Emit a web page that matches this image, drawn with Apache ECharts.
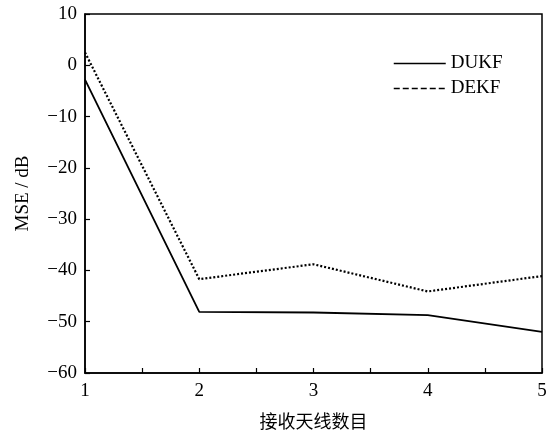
<!DOCTYPE html>
<html>
<head>
<meta charset="utf-8">
<script src="https://cdn.jsdelivr.net/npm/echarts@6/dist/echarts.min.js"></script>
<style>html,body{margin:0;padding:0;background:#fff;}#c{width:551px;height:435px;}</style>
</head>
<body>
<div id="c"></div>
<script>
const xValues = [1, 2, 3, 4, 5];
const dukf = [-2.8, -48.1, -48.2, -48.7, -52.0];
const dekf = [2.5, -41.7, -38.8, -44.1, -41.1];
const seriesNames = ['DUKF', 'DEKF'];
const xAxisName = '接收天线数目';
const yAxisName = 'MSE / dB';

const serif = '"Liberation Serif", "DejaVu Serif", serif';
const chart = echarts.init(document.getElementById('c'));
chart.setOption({
  animation: false,
  backgroundColor: '#fff',
  grid: { left: 85, right: 9, top: 14, bottom: 61, show: true, borderColor: '#000', borderWidth: 1.5, backgroundColor: 'transparent' },
  legend: {
    show: true,
    orient: 'vertical', left: 388, top: 49, itemWidth: 52, itemHeight: 12, itemGap: 6,
    itemStyle: { opacity: 0 },
    lineStyle: { width: 1.5 },
    textStyle: { fontFamily: serif, fontSize: 19, color: '#000' },
    data: [
      { name: seriesNames[0], lineStyle: { type: 'solid' } },
      { name: seriesNames[1], lineStyle: { type: 'dashed' } }
    ]
  },
  xAxis: {
    type: 'value', min: 1, max: 5, interval: 0.5,
    name: xAxisName, nameLocation: 'middle', nameGap: 39,
    nameTextStyle: { fontFamily: '"Noto Sans CJK SC"', fontSize: 18, color: '#000' },
    axisLine: { onZero: false, lineStyle: { color: '#000', width: 1.5 } },
    axisTick: { inside: true, length: 5, lineStyle: { color: '#000', width: 1.2 } },
    axisLabel: { margin: 9, fontFamily: serif, fontSize: 19, color: '#000',
      formatter: function (v) { return Math.abs(v - Math.round(v)) < 1e-6 ? String(Math.round(v)) : ''; } },
    splitLine: { show: false }
  },
  yAxis: {
    type: 'value', min: -60, max: 10, interval: 10,
    name: yAxisName, nameLocation: 'middle', nameGap: 52,
    nameTextStyle: { fontFamily: serif, fontSize: 19, color: '#000' },
    axisLine: { onZero: false, lineStyle: { color: '#000', width: 1.5 } },
    axisTick: { inside: true, length: 5, lineStyle: { color: '#000', width: 1.2 } },
    axisLabel: { margin: 8, fontFamily: serif, fontSize: 19, color: '#000',
      formatter: function (v) { return v < 0 ? '\u2212' + Math.abs(v) : String(v); } },
    splitLine: { show: false }
  },
  series: [
    { name: seriesNames[0], type: 'line', symbol: 'none', data: xValues.map((x, i) => [x, dukf[i]]),
      lineStyle: { color: '#000', width: 1.8, type: 'solid' }, itemStyle: { color: '#000' } },
    { name: seriesNames[1], type: 'line', symbol: 'none', data: xValues.map((x, i) => [x, dekf[i]]),
      lineStyle: { color: '#000', width: 2.2, type: [2, 2] }, itemStyle: { color: '#000' } }
  ]
});
</script>
</body>
</html>
